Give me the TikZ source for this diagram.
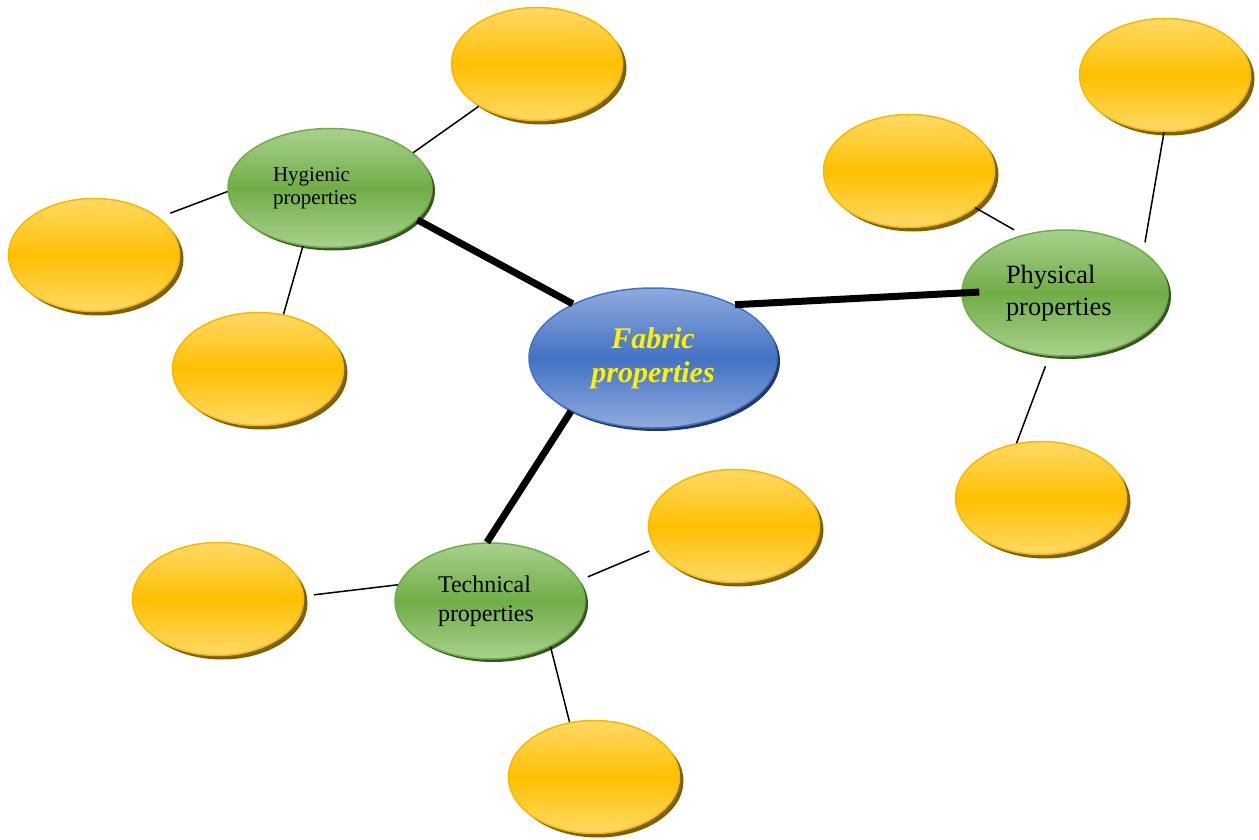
\documentclass[tikz,border=0pt]{standalone}
\usepackage{fontspec}
\setmainfont{Liberation Serif}
\usetikzlibrary{shapes.geometric,shadows}
\definecolor{goldtop}{RGB}{255,217,102}
\definecolor{goldmid}{RGB}{255,192,0}
\definecolor{goldrim}{RGB}{245,185,0}
\definecolor{goldshade}{RGB}{127,96,0}
\definecolor{leaftop}{RGB}{169,209,142}
\definecolor{leafmid}{RGB}{112,173,71}
\definecolor{leafshade}{RGB}{56,87,35}
\definecolor{hubtop}{RGB}{143,170,220}
\definecolor{hubmid}{RGB}{68,114,196}
\definecolor{hubshade}{RGB}{32,56,100}

\begin{document}
\begin{tikzpicture}[x=0.5pt,y=-0.5pt,
	oval/.style={ellipse, inner sep=0pt, line width=0.75pt},
	gold/.style={oval, minimum width=85.5pt, minimum height=56.5pt, draw=goldrim,
		top color=goldtop, bottom color=goldtop, middle color=goldmid,
		drop shadow={shadow xshift=2pt, shadow yshift=-2pt, fill=goldshade, opacity=1}},
	leaf/.style={oval, draw=leafmid, top color=leaftop, bottom color=leaftop, middle color=leafmid,
		drop shadow={shadow xshift=1.5pt, shadow yshift=-1.5pt, fill=leafshade, opacity=1}},
	hub/.style={oval, draw=hubmid, top color=hubtop, bottom color=hubtop, middle color=hubmid,
		drop shadow={shadow xshift=1.5pt, shadow yshift=-1.5pt, fill=hubshade, opacity=1}},
	stem/.style={line width=3.5pt},
	twig/.style={line width=0.75pt}]
					\useasboundingbox (0,0) rectangle (1259,840);
					% centre and topics
					\node[hub, minimum width=124pt, minimum height=70pt, text=yellow, align=center,
						font=\fontsize{15}{17}\selectfont\bfseries\itshape] (fab) at (653,358) {Fabric\\properties};
					\node[leaf, minimum width=102pt, minimum height=59.5pt, text width=57pt, align=left,
						font=\fontsize{10.5}{11.5}\selectfont] (hyg) at (330,188) {Hygienic\\properties};
					\node[leaf, minimum width=103pt, minimum height=63pt, text width=59pt, align=left,
						font=\fontsize{13.2}{16}\selectfont] (phy) at (1065,293) {Physical\\properties};
					\node[leaf, minimum width=95pt, minimum height=58pt, text width=52pt, align=left,
						font=\fontsize{12}{14.5}\selectfont] (tech) at (490,601) {Technical\\properties};
					
					% empty bubbles
					\node[gold] (hygA) at (537,64) {};
					\node[gold] (hygB) at (94,255) {};
					\node[gold] (hygC) at (258,369) {};
					\node[gold] (phyA) at (909,171) {};
					\node[gold] (phyB) at (1165,75) {};
					\node[gold] (phyC) at (1041,498) {};
					\node[gold] (techA) at (734,526) {};
					\node[gold] (techB) at (218,599) {};
					\node[gold] (techC) at (594,777) {};
					
					\draw[stem] (fab.146) -- (hyg.340);
					\draw[stem, shorten >=-9pt] (fab.33) -- (phy.west);
					\draw[stem] (fab.213) -- (tech.93);
					
					\draw[twig] (hyg.23) -- (hygA.216);
					\draw[twig, shorten >=6pt] (hyg.182) -- (hygB.30);
					\draw[twig] (hyg.245) -- (hygC.65);
					\draw[twig, shorten <=5pt] (phy.126) -- (phyA.-29);
					\draw[twig, shorten <=4.5pt] (phy.28) -- (phyB.269);
					\draw[twig, shorten <=5.5pt] (phy.256) -- (phyC.114);
					\draw[twig, shorten <=4.5pt, shorten >=3pt] (tech.13) -- (techA.196);
					\draw[twig, shorten >=5pt] (tech.170) -- (techB.2);
					\draw[twig] (tech.323) -- (techC.114);
				\end{tikzpicture}
\end{document}
